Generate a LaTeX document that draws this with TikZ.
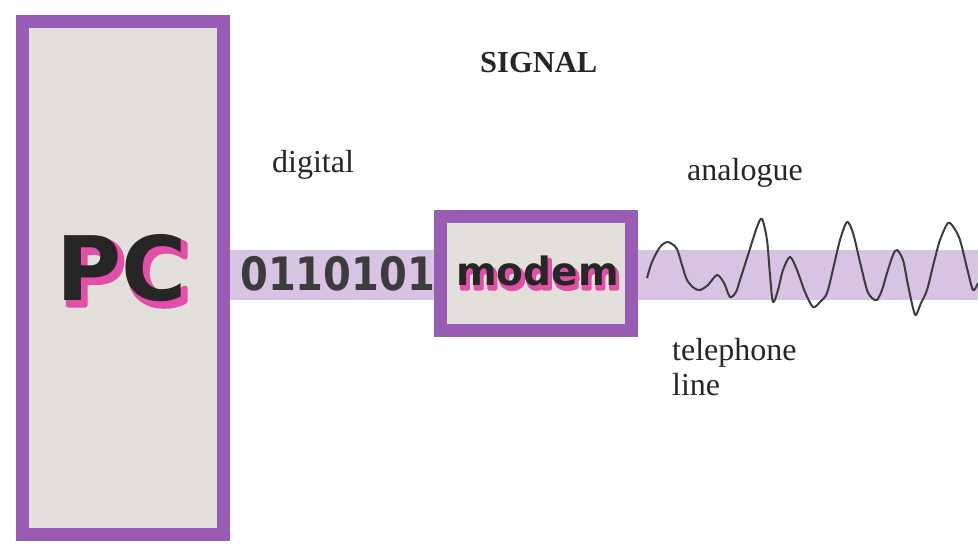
\documentclass[tikz,border=0pt]{standalone}
\usepackage{fontspec}
\setmainfont{Liberation Serif}
\newfontfamily\boldsans{DejaVu Sans}
\definecolor{boxpurple}{RGB}{152,92,180}
\definecolor{bandpurple}{RGB}{216,196,226}
\definecolor{boxfill}{RGB}{227,223,219}
\definecolor{shadowpink}{RGB}{226,78,168}
\definecolor{inkdark}{RGB}{38,38,38}
\newcommand{\strokedtext}[2]{\special{pdf:literal direct 2 Tr #1 w 1 j}#2\special{pdf:literal direct 0 Tr}}
% text with a pink shadow: #1 stroke width, #2 dx, #3 dy, #4 text
\newcommand{\pinkshadow}[4]{\makebox[0pt][l]{\hspace{#2}\raisebox{-#3}{\color{shadowpink}\strokedtext{#1}{#4}}}#4}
\tikzset{
  frame/.style={draw=boxpurple, line width=13pt, fill=boxfill},
  band/.style={fill=bandpurple, draw=none},
  serif/.style={font=\fontsize{32}{36}\selectfont, text=inkdark, inner sep=0pt, anchor=base west},
  wave/.style={draw=inkdark!90, line width=2pt, line join=round},
  bigsans/.style={inner sep=0pt, anchor=base west, text=inkdark, font=\boldsans\bfseries\fontsize{89}{90}\selectfont},
  midsans/.style={inner sep=0pt, anchor=base west, text=inkdark, font=\boldsans\bfseries\fontsize{39}{40}\selectfont},
}
\begin{document}
\begin{tikzpicture}[x=1pt,y=-1pt]
\useasboundingbox (0,0) rectangle (978,549);
\fill[white] (0,0) rectangle (978,549);
% band (telephone / data line)
\path[band] (225,250) rectangle (978,300);
% boxes
\path[frame] (22.5,21.5) rectangle (223.5,534.5);
\path[frame] (440,216.5) rectangle (631,330.5);
% PC and modem with pink shadow
\node[bigsans] (pc) at (56,300) {\pinkshadow{5}{4pt}{5pt}{PC}};
\node[midsans] (modem) at (456,285) {\pinkshadow{3}{2pt}{4pt}{modem}};
% digits
\node[inner sep=0pt, anchor=base west, text=inkdark!90, font=\boldsans\bfseries\fontsize{46}{47}\selectfont, xscale=0.87] (bits) at (240,290) {0110101};
% wave
\draw[wave] plot[smooth, tension=0.5] coordinates {
(647,278) (652,262) (660,247) (667,242) (672,244) (677,249) (682,265) (687,280)
(694,288) (700,290) (708,285) (717,275) (724,283) (730,297) (736,292) (740,280)
(748,255) (757,227) (762,219) (767,240) (770,275) (773,302) (778,290) (783,270)
(790,257) (797,270) (805,292) (813,307) (820,302) (827,293) (834,265) (840,240)
(847,222) (853,233) (860,262) (867,290) (872,298) (877,300) (882,290) (887,273)
(893,255) (897,250) (903,260) (908,285) (913,308) (916,315) (921,303) (927,290)
(934,262) (940,240) (948,223) (954,228) (960,240) (967,268) (973,290) (978,283)};
% labels
\node[serif, font=\bfseries\fontsize{30.5}{35}\selectfont] (signal) at (480,72) {SIGNAL};
\node[serif] (digital) at (272,172) {digital};
\node[serif] (analogue) at (687,180) {analogue};
\node[serif] (tel) at (672,360) {telephone};
\node[serif] (line) at (672,395) {line};
\end{tikzpicture}
\end{document}
